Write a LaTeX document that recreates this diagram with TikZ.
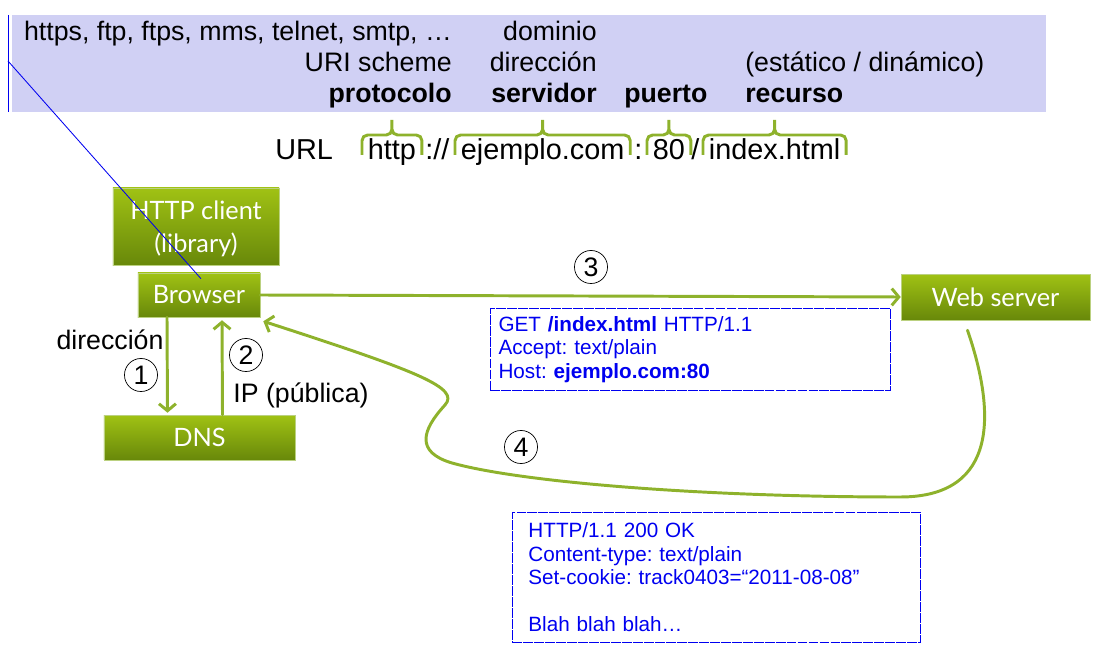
\documentclass[tikz,border=0pt]{standalone}
\usepackage{fontspec}
\setmainfont{Liberation Sans}
\newfontfamily\boxfont{Lato}
\usetikzlibrary{arrows.meta}
\frenchspacing

\definecolor{bandblue}{RGB}{208,208,244}
\definecolor{leaf}{RGB}{142,178,44}
\definecolor{leaftop}{RGB}{160,194,20}
\definecolor{leafbot}{RGB}{104,136,10}
\definecolor{msgblue}{RGB}{0,0,240}

\begin{document}
\begin{tikzpicture}[x=0.025cm, y=-0.025cm,
  band/.style={font=\fontsize{19}{21}\selectfont, inner sep=0},
  part/.style={font=\fontsize{20.5}{22}\selectfont, inner xsep=4pt, inner ysep=0pt},
  greenbox/.style={draw=leaf!60!white, line width=0.4pt, top color=leaftop, bottom color=leafbot,
    text=white, font=\boxfont\fontsize{18}{23.5}\selectfont, align=center, inner sep=0},
  flow/.style={draw=leaf, line width=2.1pt, line cap=round, -{Straight Barb[length=5pt,width=12pt]}},
  urlbrace/.style={draw=leaf, line width=2.1pt, rounded corners=4pt},
  numcirc/.style={draw, circle, line width=0.5pt, minimum size=23.5pt, inner sep=0, font=\fontsize{19}{21}\selectfont},
  msgbox/.style={draw=msgblue, line width=0.6pt, dash pattern=on 7pt off 0.8pt, text=msgblue,
    align=left, anchor=north west, font=\fontsize{14.7}{16.7}\selectfont}]
\useasboundingbox (0,0) rectangle (1118,655);

% URI parts
\fill[bandblue] (12,15) rectangle (1046,112);
\draw[msgblue, line width=0.6pt] (8,15) -- (8,112);
\node[band, anchor=base east] (schemes) at (452,41) {https, ftp, ftps, mms, telnet, smtp, \dots};
\node[band, anchor=base east] (scheme) at (452,72) {URI scheme};
\node[band, anchor=base east] (proto) at (452,103) {\textbf{protocolo}};
\node[band, anchor=base east] (domain) at (597,41) {dominio};
\node[band, anchor=base east] (address) at (597,72) {dirección};
\node[band, anchor=base east] (server) at (597,103) {\textbf{servidor}};
\node[band, anchor=base west] (port) at (624,103) {\textbf{puerto}};
\node[band, anchor=base west] (kind) at (745,72) {(estático / dinámico)};
\node[band, anchor=base west] (resource) at (745,103) {\textbf{recurso}};

\node[part, anchor=base west, inner xsep=0] (url) at (275,160) {URL};
\node[part, anchor=base west] (uproto) at (362,160) {http};
\node[part, anchor=base west, inner xsep=0] (sep1) at (425,160) {://};
\node[part, anchor=base west] (uhost) at (455,160) {ejemplo.com};
\node[part, anchor=base west, inner xsep=0] (sep2) at (634,160) {:};
\node[part, anchor=base west] (uport) at (647,160) {80};
\node[part, anchor=base west, inner xsep=0] (sep3) at (691,160) {/};
\node[part, anchor=base west] (ures) at (703,160) {index.html};
\foreach \p in {uproto,uhost,uport,ures}
  \draw[urlbrace] ([shift={(0,-5)}]\p.base west) |- ([shift={(0,-25)}]\p.base) -- ([shift={(0,-40)}]\p.base)
                  ([shift={(0,-5)}]\p.base east) |- ([shift={(0,-25)}]\p.base) -- ([shift={(0,-40)}]\p.base);

% Boxes
\node[greenbox, minimum width=118.1pt, minimum height=54.8pt, text depth=0pt] (client) at (196,226.5) {HTTP client\\(library)};
\node[greenbox, minimum width=86.8pt, minimum height=31.3pt] (browser) at (199,295) {Browser};
\node[greenbox, minimum width=135.9pt, minimum height=32pt] (dns) at (199.5,437.5) {DNS};
\node[greenbox, minimum width=134.4pt, minimum height=32.7pt] (web) at (995.5,297) {Web server};

% Messages
\node[msgbox, minimum width=284.5pt, minimum height=58.3pt, inner xsep=5.7pt, text width=273pt] (request) at (490,308)
  {GET \textbf{/index.html} HTTP/1.1\\Accept: text/plain\\Host: \textbf{ejemplo.com:80}};
\node[msgbox, minimum width=290.2pt, minimum height=92.5pt, inner xsep=11.4pt, text width=267.4pt] (response) at (512,512)
  {HTTP/1.1 200 OK\\Content-type: text/plain\\Set-cookie: track0403=“2011-08-08”\\[16.7pt]Blah blah blah\dots};

% Steps
\draw[flow] ([shift={(-32,0)}]browser.south) -- ([shift={(-32,-2)}]dns.north);
\draw[flow] ([shift={(23,0)}]dns.north) -- ([shift={(23,3)}]browser.south);
\draw[flow] (browser.east) -- (web.west);
\draw[flow] ([shift={(-28,10)}]web.south) .. controls (995,410) and (1000,497) .. (900,497)
  .. controls (700,497) and (520,482) .. (452,463) .. controls (415,452) and (422,430) .. (445,405)
  .. controls (460,388) and (420,372) .. ([shift={(3,4)}]browser.south east);
\node[band] (ldir) at (110,340) {dirección};
\node[band] (lip) at (301,395) {IP (pública)};
\node[numcirc] (c1) at (141,375) {1};
\node[numcirc] (c2) at (246,355) {2};
\node[numcirc] (c3) at (591,267) {3};
\node[numcirc] (c4) at (521,447) {4};

% Pointer
\coordinate (caret) at (8,61);
\draw[msgblue, line width=0.6pt] (caret) -- ([shift={(2,6)}]browser.north);
\end{tikzpicture}
\end{document}
